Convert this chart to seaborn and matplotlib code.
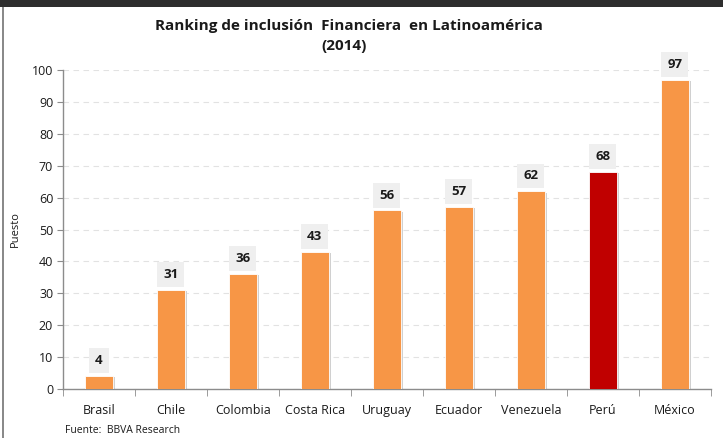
import numpy as np
import pandas as pd
import seaborn as sns
import matplotlib.pyplot as plt
from matplotlib.patches import Rectangle

paises = ["Brasil", "Chile", "Colombia", "Costa Rica", "Uruguay", "Ecuador", "Venezuela", "Perú", "México"]
puesto = [4, 31, 36, 43, 56, 57, 62, 68, 97]
destacado = ["no", "no", "no", "no", "no", "no", "no", "si", "no"]

def main():
    df = pd.DataFrame({"pais": paises, "puesto": puesto, "grupo": destacado})

    sns.set_style("white")
    plt.rcParams['font.family'] = ['Open Sans', 'DejaVu Sans']

    fig = plt.figure(figsize=(7.23, 4.38), dpi=100)
    ax = fig.add_axes([0.087, 0.112, 0.896, 0.728])

    sns.barplot(data=df, x="pais", y="puesto", hue="grupo",
                palette={"no": "#F79646", "si": "#C00000"}, saturation=1,
                width=0.39, dodge=False, legend=False, ax=ax, zorder=3)

    # soft shadow on the right of each bar
    for p in list(ax.patches):
        if p.get_height() <= 0:
            continue
        sh = Rectangle((p.get_x() + 0.03, 0), p.get_width(), p.get_height() - 0.4,
                       facecolor="#d0d0d0", edgecolor="none", zorder=2)
        ax.add_patch(sh)
        p.set_edgecolor("white")
        p.set_linewidth(0.6)
        ax.text(p.get_x() + p.get_width() / 2, p.get_height() + 4.8,
                "%d" % p.get_height(), ha="center", va="center",
                fontsize=9.5, fontweight="bold", color="#1a1a1a", zorder=5,
                bbox=dict(boxstyle="square,pad=0.45", facecolor="#efefef", edgecolor="none"))

    ax.set_ylim(0, 100)
    ax.set_xlim(-0.5, len(paises) - 0.5)
    ax.set_yticks(range(0, 101, 10))
    ax.yaxis.grid(True, linestyle=(0, (5, 4)), color="#e2e2e2", linewidth=0.8, zorder=0)
    ax.set_axisbelow(True)

    for s in ["top", "right"]:
        ax.spines[s].set_visible(False)
    for s in ["left", "bottom"]:
        ax.spines[s].set_color("#8c8c8c")
        ax.spines[s].set_linewidth(1.0)

    ax.tick_params(axis="y", which="major", left=True, length=4, color="#8c8c8c",
                   labelsize=9, pad=3, labelcolor="#1a1a1a")
    ax.tick_params(axis="x", which="major", bottom=False, labelsize=9, pad=7,
                   labelcolor="#1a1a1a")
    ax.set_xticks(np.arange(-0.5, len(paises), 1), minor=True)
    ax.tick_params(axis="x", which="minor", bottom=True, length=5, color="#8c8c8c")

    ax.set_xlabel("")
    ax.set_ylabel("Puesto", fontsize=8, color="#1a1a1a", labelpad=8)

    fig.text(0.482, 0.94, "Ranking de inclusión  Financiera  en Latinoamérica",
             ha="center", va="center", fontsize=11, fontweight="bold", color="#1a1a1a")
    fig.text(0.476, 0.896, "(2014)", ha="center", va="center",
             fontsize=11, fontweight="bold", color="#1a1a1a")
    fig.text(0.09, 0.017, "Fuente:  BBVA Research", ha="left", va="center",
             fontsize=7.5, color="#1a1a1a")

    # frame of the original screenshot
    fig.patches.append(Rectangle((0, 0.984), 1, 0.016, transform=fig.transFigure,
                                 facecolor="#2e2e2e", edgecolor="none", zorder=10))
    fig.patches.append(Rectangle((0.003, 0), 0.002, 0.984, transform=fig.transFigure,
                                 facecolor="#8a8a8a", edgecolor="none", zorder=10))

    fig.savefig("out.png", dpi=100)
    print("Done")


if __name__ == "__main__":
    main()
